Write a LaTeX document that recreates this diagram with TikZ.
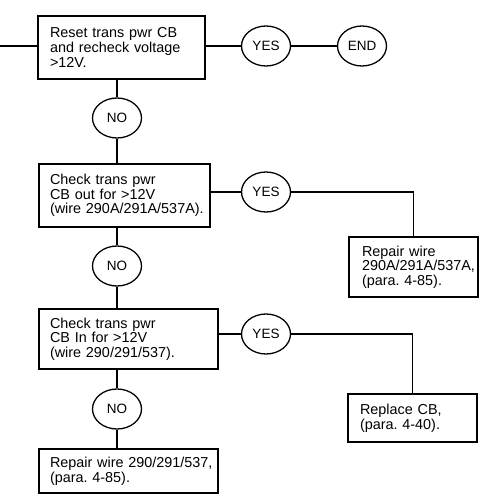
\documentclass[tikz,border=0pt]{standalone}
\usepackage{fontspec}
\setmainfont{Liberation Sans}
\usetikzlibrary{positioning,shapes.geometric}
\frenchspacing

\begin{document}
\begin{tikzpicture}[x=1pt,y=-1pt,line width=1.3pt,box/.style={draw,rectangle,align=left,inner xsep=11pt,inner ysep=0pt,font=\fontsize{14.4}{14.7}\selectfont},oval/.style={draw,ellipse,minimum width=49pt,minimum height=40pt,inner sep=0pt,font=\fontsize{13.5}{13.5}\selectfont}]
\useasboundingbox (0,0) rectangle (488,503);
\coordinate (start) at (0,46);
\node[box,inner xsep=12pt,text width=143pt,minimum height=63pt] (reset) at (121.5,47.5) {Reset trans pwr CB\\and recheck voltage\\>12V.};
\node[oval] (yes1) at (266,46) {YES};
\node[oval] (end) at (362,46) {END};
\node[oval] (no1) at (117,118) {NO};
\node[box,text width=149pt,minimum height=63pt] (cbout) at (124.5,195.5) {Check trans pwr\\CB out for >12V\\(wire~290A/291A/537A).};
\node[oval] (yes2) at (266,192) {YES};
\node[box,inner xsep=13pt,text width=103pt,minimum height=60pt] (repairout) at (413.5,267) {Repair wire\\290A/291A/537A,\\(para. 4-85).};
\node[oval] (no2) at (117,266) {NO};
\node[box,text width=157pt,minimum height=60pt] (cbin) at (128.5,339) {Check trans pwr\\CB In for >12V\\(wire 290/291/537).};
\node[oval] (yes3) at (266,334) {YES};
\node[box,inner xsep=12pt,text width=105pt,minimum height=48pt] (replace) at (412.5,418) {Replace CB,\\(para. 4-40).};
\node[oval] (no3) at (117,409) {NO};
\node[box,text width=157pt,minimum height=44pt] (repairin) at (128.5,471) {Repair~wire~290/291/537,\\(para. 4-85).};
% connectors
\draw (start) -- (start -| reset.west);
\draw (reset.east |- yes1.west) -- (yes1.west); \draw (yes1) -- (end);
\draw (reset.south -| no1) -- (no1.north); \draw (no1.south) -- (no1.south |- cbout.north);
\draw (cbout.east |- yes2.west) -- (yes2.west); \draw (yes2.east) -| (repairout.north);
\draw (cbout.south -| no2) -- (no2.north); \draw (no2.south) -- (no2.south |- cbin.north);
\draw (cbin.east |- yes3.west) -- (yes3.west); \draw (yes3.east) -| (replace.north);
\draw (cbin.south -| no3) -- (no3.north); \draw (no3.south) -- (no3.south |- repairin.north);
\end{tikzpicture}
\end{document}
